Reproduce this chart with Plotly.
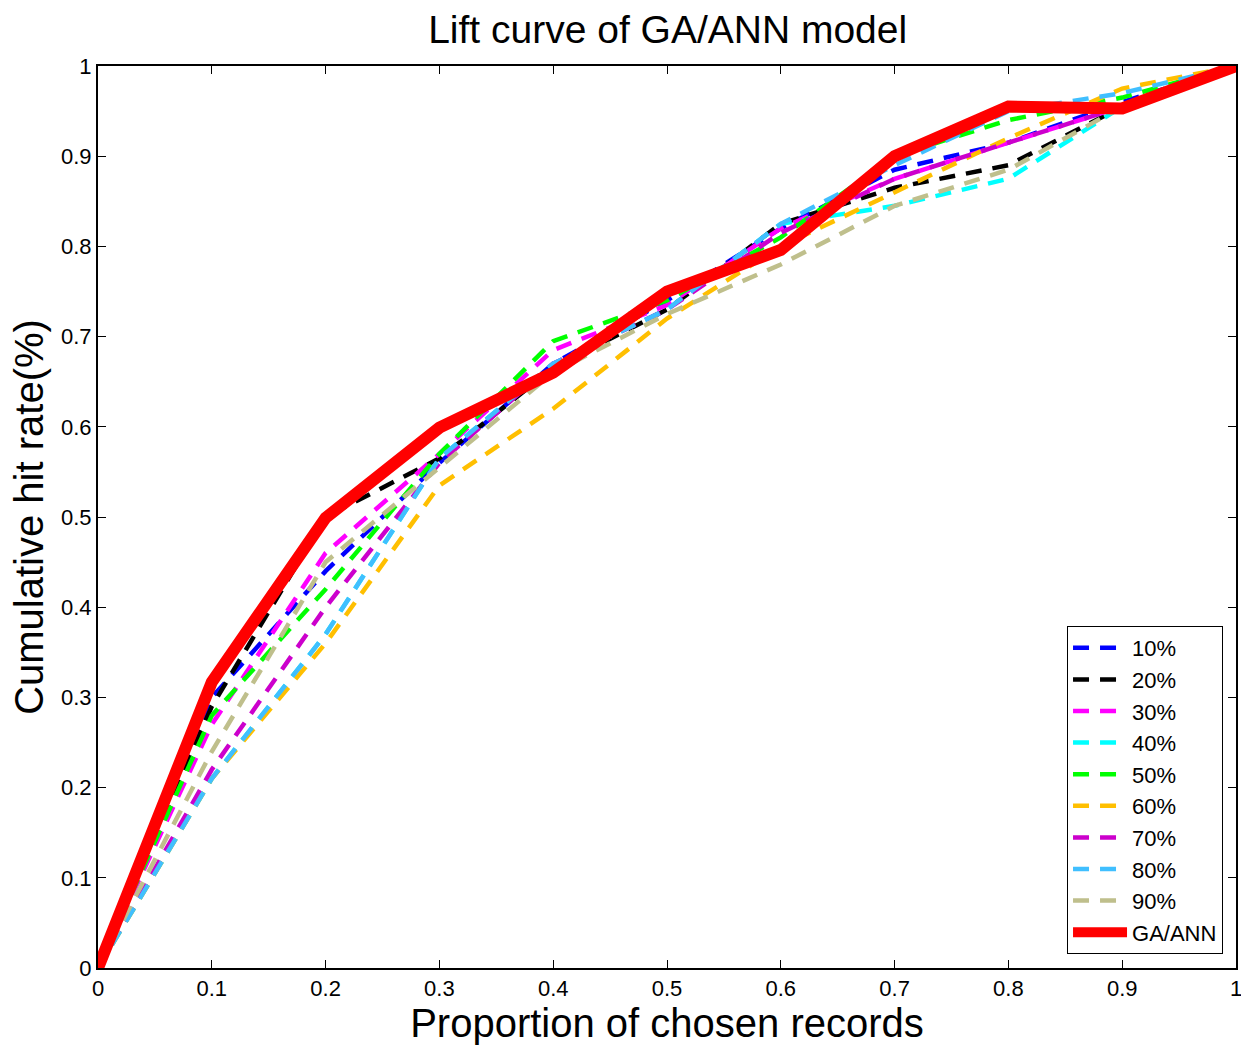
import plotly.graph_objects as go

x_vals = [0, 0.1, 0.2, 0.3, 0.4, 0.5, 0.6, 0.7, 0.8, 0.9, 1.0]

s10 = [0, 0.30, 0.44, 0.56, 0.67, 0.74, 0.82, 0.885, 0.915, 0.96, 1.0]
s20 = [0, 0.29, 0.50, 0.565, 0.665, 0.73, 0.825, 0.865, 0.89, 0.955, 1.0]
s30 = [0, 0.27, 0.46, 0.57, 0.685, 0.735, 0.82, 0.875, 0.915, 0.955, 1.0]
s40 = [0, 0.21, 0.37, 0.565, 0.67, 0.73, 0.825, 0.845, 0.875, 0.955, 1.0]
s50 = [0, 0.28, 0.42, 0.57, 0.695, 0.74, 0.81, 0.90, 0.94, 0.965, 1.0]
s60 = [0, 0.21, 0.36, 0.535, 0.62, 0.72, 0.80, 0.86, 0.92, 0.975, 1.0]
s70 = [0, 0.22, 0.40, 0.56, 0.67, 0.73, 0.815, 0.875, 0.915, 0.955, 1.0]
s80 = [0, 0.21, 0.37, 0.565, 0.67, 0.73, 0.825, 0.89, 0.95, 0.97, 1.0]
s90 = [0, 0.24, 0.45, 0.555, 0.66, 0.725, 0.78, 0.845, 0.885, 0.955, 1.0]
ga_ann = [0, 0.317, 0.499, 0.599, 0.66, 0.75, 0.796, 0.90, 0.955, 0.953, 1.0]

names = ["10%", "20%", "30%", "40%", "50%", "60%", "70%", "80%", "90%"]
series = [s10, s20, s30, s40, s50, s60, s70, s80, s90]
colors = ["#0000FF", "#000000", "#FF00FF", "#00FFFF", "#00FF00",
          "#FFBF00", "#CC00CC", "#40BFFF", "#BFBF8C"]
tick_vals = [0, 0.1, 0.2, 0.3, 0.4, 0.5, 0.6, 0.7, 0.8, 0.9, 1]
tick_text = ["0", "0.1", "0.2", "0.3", "0.4", "0.5", "0.6", "0.7", "0.8", "0.9", "1"]

fig = go.Figure()
for n, s, c in zip(names, series, colors):
    fig.add_trace(go.Scatter(x=x_vals, y=s, mode="lines", name=n,
                             line=dict(color=c, width=4.5, dash="16px,11px")))
fig.add_trace(go.Scatter(x=x_vals, y=ga_ann, mode="lines", name="GA/ANN",
                         line=dict(color="#FF0000", width=12)))

font_family = "Liberation Sans, Arial, sans-serif"
fig.update_layout(
    width=1241, height=1046,
    margin=dict(l=98, r=5, t=66, b=78),
    paper_bgcolor="white", plot_bgcolor="white",
    font=dict(family=font_family, color="black"),
    title=dict(text="Lift curve of GA/ANN model", x=0.538, xanchor="center",
               y=0.9716, yanchor="middle", font=dict(size=39)),
    showlegend=True,
    legend=dict(x=0.9886, y=0.0155, xanchor="right", yanchor="bottom",
                bordercolor="black", borderwidth=1, bgcolor="white",
                font=dict(size=22), tracegroupgap=0, itemwidth=54),
)
axis_common = dict(showline=True, linecolor="black", linewidth=2, mirror="ticks",
                   ticks="inside", ticklen=8, tickwidth=1, tickcolor="black",
                   showgrid=False, zeroline=False, tickfont=dict(size=22),
                   automargin=False, ticklabeloverflow="allow")
fig.update_xaxes(range=[0, 1], tickvals=tick_vals, ticktext=tick_text,
                 title=dict(text="Proportion of chosen records", font=dict(size=40), standoff=0),
                 **axis_common)
fig.update_yaxes(range=[0, 1], tickvals=tick_vals, ticktext=tick_text,
                 title=dict(text="Cumulative hit rate(%)", font=dict(size=40), standoff=5),
                 **axis_common)

fig.write_html(
    "out.html",
    config={"displayModeBar": False},
    post_script="document.body.style.margin='0';document.body.style.overflow='hidden';",
)
